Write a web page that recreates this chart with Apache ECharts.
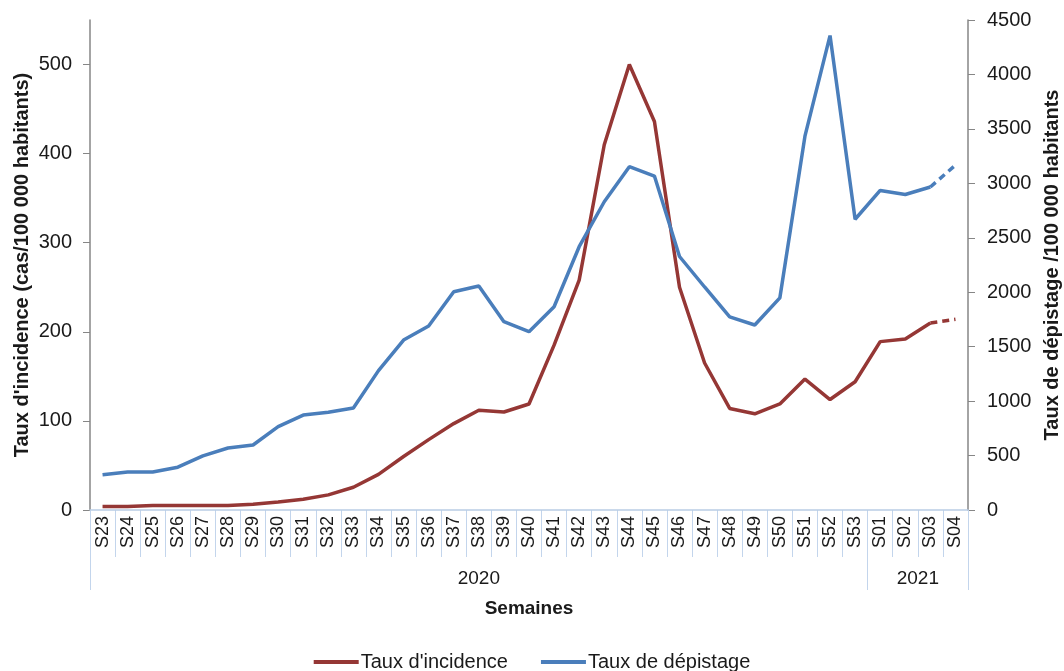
<!DOCTYPE html>
<html>
<head>
<meta charset="utf-8">
<script src="https://cdn.jsdelivr.net/npm/echarts@6/dist/echarts.min.js"></script>
<style>
  html, body { margin: 0; padding: 0; background: #fff; }
  #chart { width: 1064px; height: 671px; }
</style>
</head>
<body>
<div id="chart"></div>
<script>
const weeks = ['S23','S24','S25','S26','S27','S28','S29','S30','S31','S32','S33','S34','S35','S36','S37','S38','S39','S40','S41','S42','S43','S44','S45','S46','S47','S48','S49','S50','S51','S52','S53','S01','S02','S03','S04'];
const incidence = [4,4,5,5,5,5,6.5,9,12,17,25.5,40,60,79,97,112,110,119,185,258,410,500,436,250,165,114,108,119,147,124,144,189,192,210,214];
const depistage = [324,349,349,393,497,569,597,765,872,897,937,1280,1561,1690,2005,2057,1729,1637,1867,2418,2831,3153,3067,2328,2048,1774,1699,1948,3433,4357,2670,2935,2897,2966,3168];
const years = ['2020', '2021'];
const yearSpans = [31, 4];
const leftTicks = [0, 100, 200, 300, 400, 500];

// last week is provisional: drawn dashed
const lastSolid = weeks.length - 2;
const solidPart = arr => arr.map((v, i) => i <= lastSolid ? v : null);
const dashPart = arr => arr.map((v, i) => i >= lastSolid ? v : null);

// year group boundaries and centres
const yearEdges = [0];
yearSpans.forEach(s => yearEdges.push(yearEdges[yearEdges.length - 1] + s));
const yearCentres = yearSpans.map((s, i) => yearEdges[i] + s / 2);

const RED = '#953735';
const BLUE = '#4a7ebb';
const SEP_BLUE = '#c3d5ec';
const AXIS_GREY = '#868686';
const TXT = '#1a1a1a';
const FONT = 'Liberation Sans, Arial, sans-serif';

const chart = echarts.init(document.getElementById('chart'));
chart.setOption({
  animation: false,
  textStyle: { fontFamily: FONT },
  grid: [
    { left: 90, right: 96, top: 20, bottom: 161, outerBoundsMode: 'none' },
    // band under the axis holding the week separators
    { left: 90, right: 96, top: 510, height: 47, outerBoundsMode: 'none' }
  ],
  legend: {
    data: ["Taux d'incidence", 'Taux de dépistage'],
    top: 647,
    left: 'center',
    itemWidth: 45,
    itemHeight: 4,
    itemGap: 33,
    icon: 'rect',
    textStyle: { fontSize: 20, color: TXT, padding: [0, 0, 0, -3] }
  },
  xAxis: [
    {
      type: 'category',
      data: weeks,
      boundaryGap: true,
      axisLine: { lineStyle: { color: '#b9cde5', width: 1.5 } },
      axisTick: { show: false },
      axisLabel: { interval: 0, rotate: 90, fontSize: 18, color: TXT, margin: 6 },
      z: 5
    },
    {
      type: 'value',
      position: 'bottom',
      offset: 47,
      min: 0,
      max: weeks.length,
      axisLine: { show: false },
      splitLine: { show: false },
      axisTick: { show: true, customValues: yearEdges, length: 80, lineStyle: { color: SEP_BLUE } },
      axisLabel: {
        customValues: yearCentres,
        fontSize: 19,
        color: TXT,
        margin: 12,
        formatter: v => years[yearCentres.indexOf(v)] || ''
      },
      name: 'Semaines',
      nameLocation: 'middle',
      nameGap: 42,
      nameTextStyle: { fontSize: 19, fontWeight: 'bold', color: TXT }
    },
    {
      type: 'category',
      gridIndex: 1,
      data: weeks,
      boundaryGap: true,
      axisLine: { show: false },
      axisTick: { show: false },
      axisLabel: { show: false },
      splitLine: { show: true, interval: 0, lineStyle: { color: SEP_BLUE, width: 1 } }
    }
  ],
  yAxis: [
    {
      type: 'value',
      min: 0,
      max: 550,
      position: 'left',
      splitLine: { show: false },
      axisLine: { show: true, lineStyle: { color: AXIS_GREY, width: 1.5 } },
      axisTick: { show: true, length: 7, customValues: leftTicks, lineStyle: { color: AXIS_GREY } },
      axisLabel: { customValues: leftTicks, fontSize: 20, color: TXT, margin: 18 },
      name: "Taux d'incidence (cas/100 000 habitants)",
      nameLocation: 'middle',
      nameRotate: 90,
      nameGap: 58,
      nameMoveOverlap: false,
      nameTextStyle: { fontSize: 20, fontWeight: 'bold', color: TXT }
    },
    {
      type: 'value',
      min: 0,
      max: 4500,
      interval: 500,
      position: 'right',
      splitLine: { show: false },
      axisLine: { show: true, lineStyle: { color: AXIS_GREY, width: 1.5 } },
      axisTick: { show: true, length: 7, lineStyle: { color: AXIS_GREY } },
      axisLabel: { fontSize: 20, color: TXT, margin: 19, formatter: v => String(v) },
      name: 'Taux de dépistage /100 000 habitants',
      nameLocation: 'middle',
      nameRotate: 90,
      nameGap: 71,
      nameTextStyle: { fontSize: 20, fontWeight: 'bold', color: TXT }
    },
    {
      type: 'value',
      gridIndex: 1,
      show: false
    }
  ],
  series: [
    {
      name: "Taux d'incidence",
      type: 'line',
      yAxisIndex: 0,
      data: solidPart(incidence),
      symbol: 'none',
      color: RED,
      lineStyle: { width: 3.5, color: RED }
    },
    {
      name: 'Taux de dépistage',
      type: 'line',
      yAxisIndex: 1,
      data: solidPart(depistage),
      symbol: 'none',
      color: BLUE,
      lineStyle: { width: 3.5, color: BLUE }
    },
    {
      name: 'incidence (provisoire)',
      type: 'line',
      yAxisIndex: 0,
      data: dashPart(incidence),
      symbol: 'none',
      lineStyle: { width: 3.5, color: RED, type: [7, 5] }
    },
    {
      name: 'dépistage (provisoire)',
      type: 'line',
      yAxisIndex: 1,
      data: dashPart(depistage),
      symbol: 'none',
      lineStyle: { width: 3.5, color: BLUE, type: [7, 5] }
    }
  ]
});
</script>
</body>
</html>
